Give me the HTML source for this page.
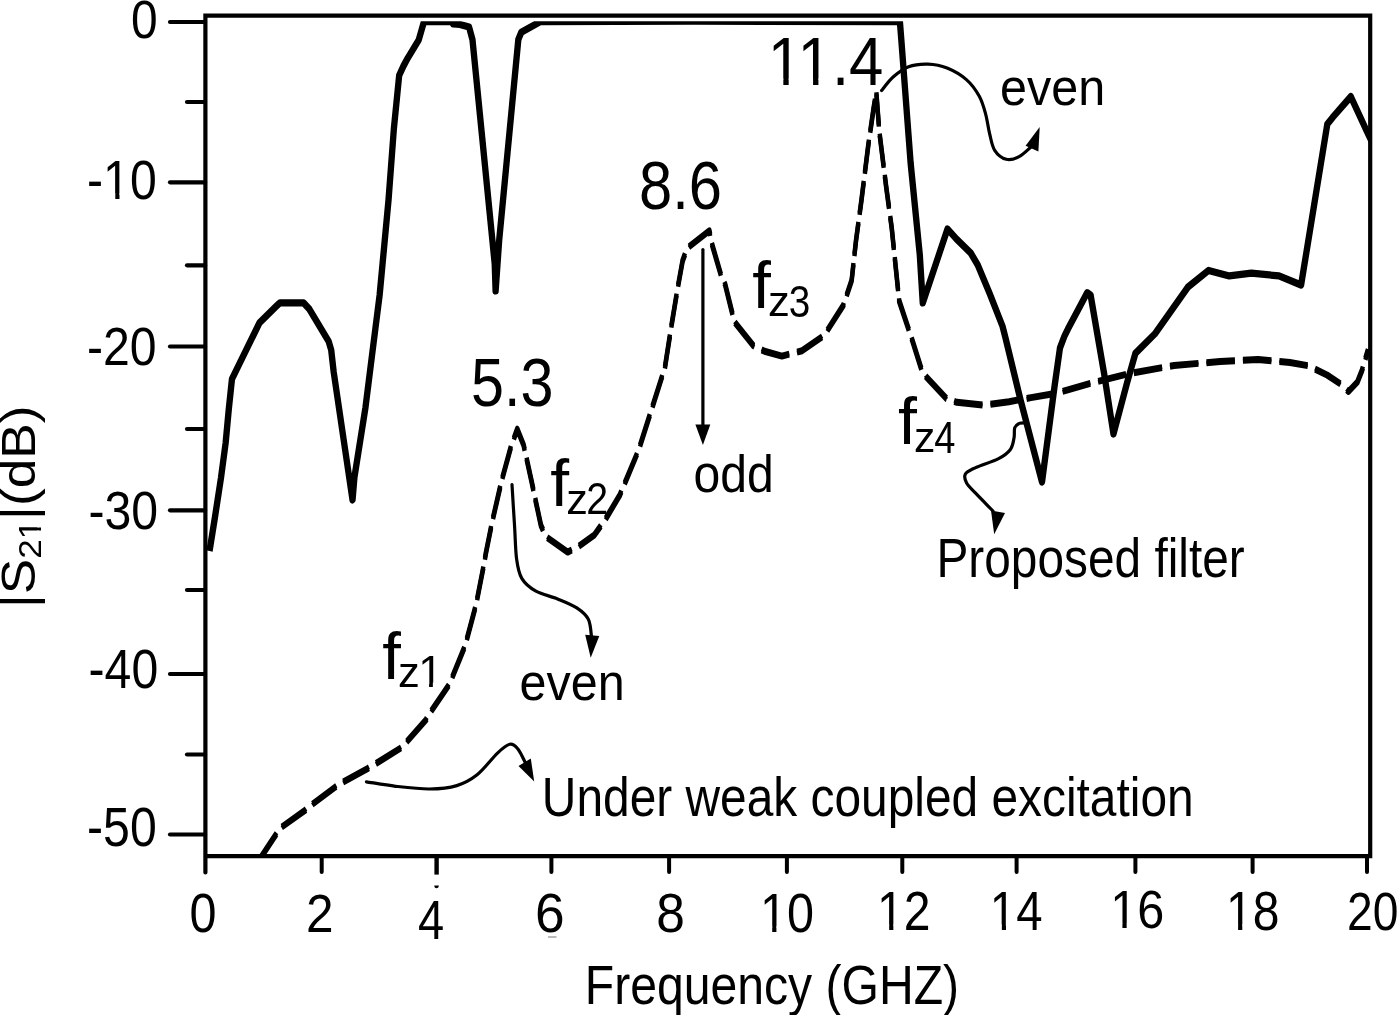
<!DOCTYPE html>
<html><head><meta charset="utf-8"><style>
html,body{margin:0;padding:0;background:#fff;}
svg{display:block;}
text{font-family:"Liberation Sans",Arial,sans-serif;fill:#000;}
</style></head><body>
<svg width="1400" height="1015" viewBox="0 0 1400 1015">
<rect width="1400" height="1015" fill="#fff"/>
<path d="M205.4,872.4 V15.6 H1370.2 V856.1 H205.4" fill="none" stroke="#000" stroke-width="4.2" stroke-linejoin="miter" stroke-linecap="round"/>
<line x1="170" y1="22" x2="205" y2="22" stroke="#000" stroke-width="4.2" stroke-linecap="round"/>
<line x1="170" y1="182.3" x2="205" y2="182.3" stroke="#000" stroke-width="4.2" stroke-linecap="round"/>
<line x1="170" y1="346.5" x2="205" y2="346.5" stroke="#000" stroke-width="4.2" stroke-linecap="round"/>
<line x1="170" y1="510.3" x2="205" y2="510.3" stroke="#000" stroke-width="4.2" stroke-linecap="round"/>
<line x1="170" y1="674" x2="205" y2="674" stroke="#000" stroke-width="4.2" stroke-linecap="round"/>
<line x1="170" y1="834.5" x2="205" y2="834.5" stroke="#000" stroke-width="4.2" stroke-linecap="round"/>
<line x1="187" y1="102" x2="205" y2="102" stroke="#000" stroke-width="4.2" stroke-linecap="round"/>
<line x1="187" y1="265.3" x2="205" y2="265.3" stroke="#000" stroke-width="4.2" stroke-linecap="round"/>
<line x1="187" y1="429" x2="205" y2="429" stroke="#000" stroke-width="4.2" stroke-linecap="round"/>
<line x1="187" y1="590" x2="205" y2="590" stroke="#000" stroke-width="4.2" stroke-linecap="round"/>
<line x1="187" y1="754.5" x2="205" y2="754.5" stroke="#000" stroke-width="4.2" stroke-linecap="round"/>
<line x1="436.6" y1="856" x2="436.6" y2="874.6" stroke="#000" stroke-width="4.4"/>
<rect x="548" y="936.2" width="8.5" height="1.6" fill="#aaa"/>
<path d="M434.3,885.6 A2.3,2.6 0 0 0 438.9,885.6 Z" fill="#000"/>
<line x1="321.7" y1="856" x2="321.7" y2="872" stroke="#000" stroke-width="4" stroke-linecap="round"/>
<line x1="551.4" y1="856" x2="551.4" y2="872" stroke="#000" stroke-width="4" stroke-linecap="round"/>
<line x1="669.1" y1="856" x2="669.1" y2="872" stroke="#000" stroke-width="4" stroke-linecap="round"/>
<line x1="786.9" y1="856" x2="786.9" y2="872" stroke="#000" stroke-width="4" stroke-linecap="round"/>
<line x1="902.3" y1="856" x2="902.3" y2="872" stroke="#000" stroke-width="4" stroke-linecap="round"/>
<line x1="1016.6" y1="856" x2="1016.6" y2="872" stroke="#000" stroke-width="4" stroke-linecap="round"/>
<line x1="1135.4" y1="856" x2="1135.4" y2="872" stroke="#000" stroke-width="4" stroke-linecap="round"/>
<line x1="1252.6" y1="856" x2="1252.6" y2="872" stroke="#000" stroke-width="4" stroke-linecap="round"/>
<line x1="1367" y1="856" x2="1367" y2="872" stroke="#000" stroke-width="4" stroke-linecap="round"/>
<defs><clipPath id="ctx1_1"><rect x="-50.00" y="-99.97" width="179.39" height="94.59"/><rect x="-50.00" y="-5.38" width="70.94" height="6.96"/><rect x="32.16" y="-5.38" width="4.80" height="6.96"/><rect x="47.74" y="-5.38" width="81.66" height="6.96"/><rect x="-50.00" y="1.59" width="179.39" height="60.11"/></clipPath><clipPath id="ctx1_11"><rect x="-50.00" y="-99.97" width="161.57" height="94.59"/><rect x="-50.00" y="-5.38" width="52.66" height="6.96"/><rect x="13.88" y="-5.38" width="4.80" height="6.96"/><rect x="29.46" y="-5.38" width="82.11" height="6.96"/><rect x="-50.00" y="1.59" width="161.57" height="60.11"/></clipPath><clipPath id="ctx1_12"><rect x="-50.00" y="-100.25" width="161.80" height="94.84"/><rect x="-50.00" y="-5.40" width="52.69" height="6.99"/><rect x="13.96" y="-5.40" width="4.83" height="6.99"/><rect x="29.62" y="-5.40" width="82.19" height="6.99"/><rect x="-50.00" y="1.59" width="161.80" height="60.17"/></clipPath><clipPath id="ctx1_13"><rect x="-50.00" y="-100.52" width="161.59" height="95.09"/><rect x="-50.00" y="-5.43" width="52.71" height="7.02"/><rect x="14.03" y="-5.43" width="4.85" height="7.02"/><rect x="29.77" y="-5.43" width="81.82" height="7.02"/><rect x="-50.00" y="1.60" width="161.59" height="60.23"/></clipPath><clipPath id="ctx1_14"><rect x="-50.00" y="-98.19" width="159.53" height="93.15"/><rect x="-50.00" y="-5.04" width="52.54" height="6.79"/><rect x="13.44" y="-5.04" width="4.65" height="6.79"/><rect x="28.56" y="-5.04" width="80.96" height="6.79"/><rect x="-50.00" y="1.75" width="159.53" height="59.77"/></clipPath><clipPath id="ctx1_15"><rect x="-50.00" y="-100.20" width="161.56" height="94.80"/><rect x="-50.00" y="-5.40" width="52.68" height="6.99"/><rect x="13.94" y="-5.40" width="4.82" height="6.99"/><rect x="29.59" y="-5.40" width="81.97" height="6.99"/><rect x="-50.00" y="1.59" width="161.56" height="60.16"/></clipPath><clipPath id="ctx1_17"><rect x="-50.00" y="-112.30" width="229.69" height="105.99"/><rect x="-50.00" y="-6.31" width="53.63" height="8.33"/><rect x="17.35" y="-6.31" width="6.00" height="8.33"/><rect x="36.52" y="-6.31" width="0.48" height="8.33"/><rect x="50.73" y="-6.31" width="6.00" height="8.33"/><rect x="69.90" y="-6.31" width="109.79" height="8.33"/><rect x="-50.00" y="2.02" width="229.69" height="62.76"/></clipPath><clipPath id="ctx1_25"><rect x="-50.00" y="-90.46" width="125.07" height="85.65"/><rect x="-50.00" y="-4.82" width="51.91" height="5.89"/><rect x="11.16" y="-4.82" width="3.86" height="5.89"/><rect x="23.92" y="-4.82" width="51.15" height="5.89"/><rect x="-50.00" y="1.08" width="125.07" height="58.03"/></clipPath><clipPath id="ctx1_38"><rect x="-50.00" y="-98.35" width="302.52" height="100.57"/><rect x="-50.00" y="2.22" width="119.97" height="4.95"/><rect x="77.49" y="2.22" width="3.03" height="4.95"/><rect x="87.76" y="2.22" width="164.75" height="4.95"/><rect x="-50.00" y="7.17" width="302.52" height="56.19"/></clipPath><clipPath id="pc"><rect x="205" y="21.2" width="1165" height="835"/></clipPath></defs>
<g clip-path="url(#pc)"><g transform="scale(0.88,1)">
<polyline points="238.1,551.0 244.3,517.0 251.1,478.0 256.4,443.0 260.0,409.0 263.6,379.0 294.9,322.7 313.6,306.6 318.2,302.8 345.0,302.8 351.6,309.2 373.4,341.2 376.4,350.2 379.2,372.0 400.6,500.0 402.8,477.0 415.3,407.6 423.5,350.0 431.4,295.0 441.5,200.0 447.6,128.5 453.6,75.4 458.5,66.0 463.6,57.7 475.8,40.0 481.8,21.6 513.6,21.6 514.8,24.0 522.7,24.5 533.0,27.0 536.9,39.6 562.2,264.0 563.2,291.0 567.2,240.6 589.0,39.6 592.4,32.2 614.2,21.6 788.6,21.2 1022.6,21.6 1024.3,40.6 1034.8,163.0 1045.2,254.6 1048.6,303.0 1076.7,229.0 1086.9,239.0 1103.1,253.0 1111.1,265.0 1124.5,293.3 1139.3,326.4 1142.7,338.2 1159.7,400.0 1184.1,482.0 1198.3,386.6 1204.5,348.0 1209.8,335.7 1213.6,328.9 1235.5,292.7 1239.3,295.0 1254.8,374.2 1265.3,434.0 1280.6,383.3 1290.3,353.2 1312.3,333.9 1350.0,287.0 1373.4,270.4 1396.9,275.9 1422.0,273.2 1453.4,275.9 1478.5,285.0 1508.3,124.2 1514.5,117.3 1535.0,96.6 1553.8,132.4 1559.1,142.0" fill="none" stroke="#000" stroke-width="7.2" stroke-linejoin="round"/>
<polyline transform="translate(0,-1.0)" points="296.0,858.0 314.0,834.0 318.6,828.0 346.2,810.7 353.0,805.5 381.1,787.0 389.2,782.3 417.4,768.7 425.5,764.5 456.4,747.5 484.2,719.7 489.8,711.4 510.5,684.6 528.4,646.0 540.9,605.0 549.9,564.7 552.0,553.7 559.2,522.2 569.9,481.2 580.7,446.5 587.8,429.2 595.0,445.0 604.0,481.2 609.3,503.3 614.7,525.3 620.1,536.4 645.1,552.1 655.9,547.4 675.6,534.8 688.2,519.0 704.5,494.8 725.8,449.9 740.7,408.7 755.6,367.5 763.1,325.3 770.2,287.5 775.7,260.7 781.0,248.1 806.1,230.8 808.8,243.4 819.5,275.7 824.0,284.4 832.0,312.7 834.8,322.2 856.2,345.8 868.8,351.3 888.5,356.1 911.5,350.7 936.5,335.5 958.4,305.2 967.8,280.3 972.6,241.7 978.9,200.3 986.7,145.2 993.0,106.6 995.8,92.0 999.2,131.4 1007.0,186.6 1013.3,227.9 1018.1,269.3 1021.8,301.0 1031.9,327.6 1036.9,340.9 1047.0,369.0 1052.0,376.4 1075.6,398.6 1087.3,402.3 1117.5,405.2 1146.6,401.7 1171.6,397.6 1199.9,393.4 1239.3,383.3 1282.5,373.7 1334.1,365.5 1386.4,361.5 1429.5,359.5 1465.9,362.5 1486.4,365.7 1508.0,375.0 1523.3,384.0 1532.4,391.5 1542.5,382.0 1547.7,370.5 1554.5,350.0" fill="none" stroke="#000" stroke-width="5.0" stroke-linejoin="round" stroke-dasharray="32.5,9.05" stroke-dashoffset="2.10"/>
<polyline transform="translate(0,1.0)" points="296.0,858.0 314.0,834.0 318.6,828.0 346.2,810.7 353.0,805.5 381.1,787.0 389.2,782.3 417.4,768.7 425.5,764.5 456.4,747.5 484.2,719.7 489.8,711.4 510.5,684.6 528.4,646.0 540.9,605.0 549.9,564.7 552.0,553.7 559.2,522.2 569.9,481.2 580.7,446.5 587.8,429.2 595.0,445.0 604.0,481.2 609.3,503.3 614.7,525.3 620.1,536.4 645.1,552.1 655.9,547.4 675.6,534.8 688.2,519.0 704.5,494.8 725.8,449.9 740.7,408.7 755.6,367.5 763.1,325.3 770.2,287.5 775.7,260.7 781.0,248.1 806.1,230.8 808.8,243.4 819.5,275.7 824.0,284.4 832.0,312.7 834.8,322.2 856.2,345.8 868.8,351.3 888.5,356.1 911.5,350.7 936.5,335.5 958.4,305.2 967.8,280.3 972.6,241.7 978.9,200.3 986.7,145.2 993.0,106.6 995.8,92.0 999.2,131.4 1007.0,186.6 1013.3,227.9 1018.1,269.3 1021.8,301.0 1031.9,327.6 1036.9,340.9 1047.0,369.0 1052.0,376.4 1075.6,398.6 1087.3,402.3 1117.5,405.2 1146.6,401.7 1171.6,397.6 1199.9,393.4 1239.3,383.3 1282.5,373.7 1334.1,365.5 1386.4,361.5 1429.5,359.5 1465.9,362.5 1486.4,365.7 1508.0,375.0 1523.3,384.0 1532.4,391.5 1542.5,382.0 1547.7,370.5 1554.5,350.0" fill="none" stroke="#000" stroke-width="5.0" stroke-linejoin="round" stroke-dasharray="32.5,9.05" stroke-dashoffset="2.10"/>
</g></g>
<path d="M702.9,249.5 C702.9,279.2 702.9,398.2 702.9,428.0" fill="none" stroke="#000" stroke-width="3.2" stroke-linecap="round"/>
<path d="M695.4,424.6 L710.3,424.6 L702.9,445.0 Z" fill="#000"/>
<path d="M512.0,484.5 C512.4,491.2 513.7,512.6 514.5,525.0 C515.3,537.4 515.4,550.1 516.6,559.0 C517.8,567.9 518.6,573.0 521.8,578.4 C525.0,583.8 529.9,587.8 535.9,591.2 C541.9,594.6 550.8,596.1 557.6,598.9 C564.4,601.7 571.7,604.5 576.8,607.9 C581.9,611.3 585.9,614.4 588.4,619.4 C590.9,624.4 591.1,634.9 591.6,638.0" fill="none" stroke="#000" stroke-width="3.2" stroke-linecap="round"/>
<path d="M585.2,634.8 L599.3,636.0 L590.7,657.8 Z" fill="#000"/>
<path d="M366.5,781.8 C371.4,782.5 385.2,785.1 395.7,786.3 C406.2,787.5 419.4,789.1 429.6,789.0 C439.8,788.9 448.9,788.0 456.8,785.6 C464.7,783.2 470.3,780.2 477.1,774.8 C483.9,769.4 492.1,758.2 497.5,753.1 C502.9,748.0 506.3,745.0 509.7,744.3 C513.1,743.6 515.4,746.0 517.9,749.0 C520.4,752.0 523.8,759.8 525.0,762.0" fill="none" stroke="#000" stroke-width="3.2" stroke-linecap="round"/>
<path d="M518.5,766.0 L530.8,758.5 L534.2,781.6 Z" fill="#000"/>
<path d="M881.6,90.5 C883.5,88.2 888.6,81.0 893.1,77.0 C897.6,73.0 902.8,68.9 908.6,66.7 C914.4,64.5 921.5,63.9 927.9,64.1 C934.3,64.3 940.7,65.4 947.1,68.0 C953.5,70.6 961.0,74.9 966.4,79.6 C971.8,84.3 976.1,90.5 979.3,96.3 C982.5,102.1 984.0,108.1 985.7,114.3 C987.4,120.5 988.1,127.6 989.6,133.6 C991.1,139.6 991.9,146.0 994.7,150.3 C997.5,154.6 1002.2,158.2 1006.3,159.3 C1010.4,160.4 1015.0,158.8 1019.1,156.7 C1023.2,154.6 1029.0,148.6 1031.0,147.0" fill="none" stroke="#000" stroke-width="3.2" stroke-linecap="round"/>
<path d="M1025.6,145.8 L1038.4,151.6 L1039.7,127.1 Z" fill="#000"/>
<path d="M1026.8,422.8 C1025.5,422.9 1021.1,422.5 1019.1,423.4 C1017.1,424.2 1015.6,425.4 1014.7,427.9 C1013.9,430.4 1014.8,434.6 1014.0,438.2 C1013.2,441.8 1012.8,446.3 1010.2,449.7 C1007.6,453.1 1004.4,455.6 998.6,458.6 C992.8,461.6 981.1,465.0 975.6,467.6 C970.1,470.2 966.9,471.4 965.4,474.0 C963.9,476.6 964.9,479.8 966.6,483.0 C968.3,486.2 971.2,488.5 975.6,493.2 C980.0,497.9 990.1,508.0 993.0,511.0" fill="none" stroke="#000" stroke-width="3.2" stroke-linecap="round"/>
<path d="M991.0,510.5 L1005.0,513.1 L994.2,534.2 Z" fill="#000"/>
<text transform="translate(131.08,38.46) scale(0.895,1)" font-size="53.52">0</text>
<text clip-path="url(#ctx1_1)" transform="translate(87.07,198.95) scale(0.877,1)" font-size="54.93">-10</text>
<text transform="translate(87.07,365.46) scale(0.888,1)" font-size="54.23">-20</text>
<text transform="translate(88.57,528.96) scale(0.888,1)" font-size="54.23">-30</text>
<text transform="translate(88.57,688.45) scale(0.877,1)" font-size="54.93">-40</text>
<text transform="translate(87.07,846.25) scale(0.882,1)" font-size="54.65">-50</text>
<text transform="translate(189.46,931.65) scale(0.877,1)" font-size="55.35">0</text>
<text transform="translate(306.02,932.20) scale(0.925,1)" font-size="53.57">2</text>
<text transform="translate(417.96,938.65) scale(0.860,1)" font-size="54.71">4</text>
<text transform="translate(535.04,931.65) scale(0.962,1)" font-size="55.35">6</text>
<text transform="translate(656.14,931.65) scale(0.930,1)" font-size="55.35">8</text>
<text clip-path="url(#ctx1_11)" transform="translate(760.04,931.65) scale(0.877,1)" font-size="55.35">10</text>
<text clip-path="url(#ctx1_12)" transform="translate(877.08,929.90) scale(0.866,1)" font-size="55.57">12</text>
<text clip-path="url(#ctx1_13)" transform="translate(989.85,929.90) scale(0.855,1)" font-size="55.36">14</text>
<text clip-path="url(#ctx1_14)" transform="translate(1110.24,928.46) scale(0.907,1)" font-size="53.52">16</text>
<text clip-path="url(#ctx1_15)" transform="translate(1225.99,929.95) scale(0.868,1)" font-size="55.35">18</text>
<text transform="translate(1347.09,929.96) scale(0.852,1)" font-size="54.23">20</text>
<text clip-path="url(#ctx1_17)" transform="translate(767.87,84.90) scale(0.891,1)" font-size="69.28">11.4</text>
<text transform="translate(639.01,208.61) scale(0.870,1)" font-size="68.59">8.6</text>
<text transform="translate(471.03,406.31) scale(0.865,1)" font-size="68.59">5.3</text>
<text transform="translate(1000.06,104.88) scale(0.929,1)" font-size="52.18">even</text>
<text transform="translate(519.56,700.38) scale(0.932,1)" font-size="52.00">even</text>
<text transform="translate(693.48,491.98) scale(0.922,1)" font-size="52.16">odd</text>
<text transform="translate(382.33,678.97) scale(1.001,1)" font-size="66.94">f</text>
<text transform="translate(398.05,687.40) scale(1.028,1)" font-size="42.45">z</text>
<text clip-path="url(#ctx1_25)" transform="translate(418.17,687.40) scale(0.977,1)" font-size="45.07">1</text>
<text transform="translate(550.32,505.87) scale(1.015,1)" font-size="66.81">f</text>
<text transform="translate(566.27,514.00) scale(1.031,1)" font-size="41.89">z</text>
<text transform="translate(586.13,514.00) scale(0.888,1)" font-size="44.29">2</text>
<text transform="translate(752.33,307.76) scale(1.010,1)" font-size="66.39">f</text>
<text transform="translate(768.05,316.20) scale(1.047,1)" font-size="41.70">z</text>
<text transform="translate(788.85,316.55) scale(0.862,1)" font-size="44.93">3</text>
<text transform="translate(898.12,443.97) scale(1.018,1)" font-size="66.94">f</text>
<text transform="translate(913.99,452.40) scale(1.024,1)" font-size="41.70">z</text>
<text transform="translate(934.24,452.85) scale(0.851,1)" font-size="44.71">4</text>
<text transform="translate(584.75,1004.00) scale(0.867,1)" font-size="55.51">Frequency (GHZ)</text>
<text transform="translate(541.87,816.30) scale(0.867,1)" font-size="55.22">Under weak coupled excitation</text>
<text transform="translate(936.47,576.70) scale(0.873,1)" font-size="54.78">Proposed filter</text>
<text clip-path="url(#ctx1_38)" transform="translate(35.3,608.1) rotate(-90) scale(1,0.9)" font-size="53.2">|S<tspan font-size="35" dy="6">21</tspan><tspan dy="-6">|(dB)</tspan></text>
</svg>
</body></html>
